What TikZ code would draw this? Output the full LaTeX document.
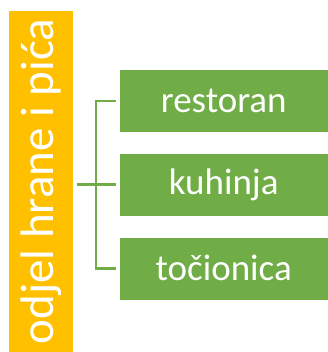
\documentclass[tikz,border=0pt]{standalone}
\usepackage{fontspec}
\setmainfont{Carlito}
\usepackage{xcolor}
\usepackage{tikz}
\usetikzlibrary{positioning}

\definecolor{deptorange}{HTML}{FFC000}
\definecolor{unitgreen}{HTML}{70AD47}

\begin{document}
\begin{tikzpicture}[x=1pt, y=-1pt,
        dept/.style={fill=deptorange, text=white, rotate=90, minimum width=341pt, minimum height=64pt, inner sep=0pt, font=\fontsize{47}{50}\selectfont},
        unit/.style={fill=unitgreen, draw=white, line width=0.8pt, text=white, minimum width=209pt, minimum height=63pt, inner sep=0pt, font=\fontsize{37}{40}\selectfont},
        link/.style={draw=unitgreen, line width=2.5pt}]
        \useasboundingbox (0,0) rectangle (328,352);

        % Department
        \node[dept] (odjel) at (41.3,181.5) {odjel hrane i pića};

        % Units
        \node[unit] (restoran) at (223.7,100.8) {restoran};
        \node[unit, below=20pt of restoran] (kuhinja) {kuhinja};
        \node[unit, below=20pt of kuhinja] (tocionica) {točionica};

        % Links
        \coordinate (split) at (96.2,183.8);
        \draw[link, shorten <=2.6pt, shorten >=3pt] (kuhinja.west) -- (kuhinja.west -| odjel.south);
        \draw[link, shorten <=2.6pt, shorten >=2.6pt] (restoran.west) -| (split) |- (tocionica.west);
    \end{tikzpicture}
\end{document}
